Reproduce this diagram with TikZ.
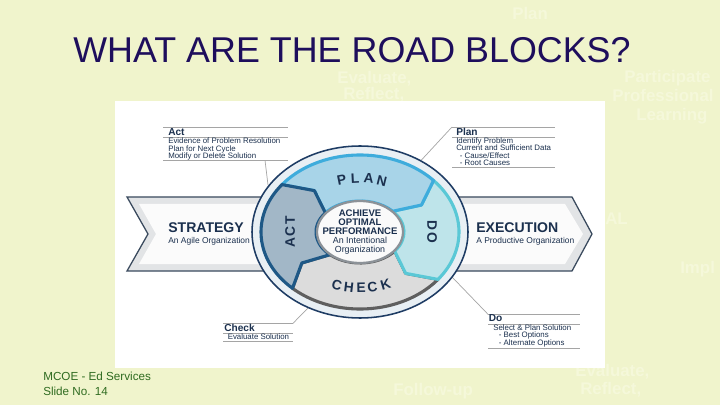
\documentclass[tikz,border=0pt]{standalone}
\usepackage{fontspec}
\setmainfont{Liberation Sans}
\usetikzlibrary{positioning}

\definecolor{slidebg}{RGB}{240,244,204}
\definecolor{ghost}{RGB}{245,248,218}
\definecolor{titleblue}{RGB}{30,14,92}
\definecolor{footgreen}{RGB}{47,107,32}
\definecolor{navytext}{RGB}{27,48,78}
\definecolor{planfill}{RGB}{168,212,232}
\definecolor{planline}{RGB}{62,172,220}
\definecolor{dofill}{RGB}{190,228,234}
\definecolor{doline}{RGB}{90,200,214}
\definecolor{checkfill}{RGB}{220,220,220}
\definecolor{checkline}{RGB}{95,95,95}
\definecolor{actfill}{RGB}{162,183,199}
\definecolor{actline}{RGB}{30,88,134}
\definecolor{rimfill}{RGB}{232,239,244}
\definecolor{rimline}{RGB}{30,60,100}
\definecolor{bandfill}{RGB}{226,228,230}
\definecolor{bandline}{RGB}{58,74,94}
\definecolor{rulegrey}{RGB}{165,165,165}
\definecolor{goalline}{RGB}{140,146,152}

\tikzset{
  ghosttext/.style={font=\bfseries\fontsize{12}{14}\selectfont, text=ghost, anchor=base west, inner sep=0pt},
  notehead/.style={font=\bfseries\fontsize{7.2}{8}\selectfont, text=navytext, inner sep=0pt, anchor=base west},
  notebody/.style={font=\fontsize{5.6}{5.3}\selectfont, text=navytext, inner sep=0pt, align=left, anchor=north west},
  noterule/.style={draw=rulegrey, line width=0.5pt},
  bandtitle/.style={font=\bfseries\fontsize{10}{12}\selectfont, text=navytext, inner sep=0pt, anchor=base west},
  bandsub/.style={font=\fontsize{6}{7}\selectfont, text=navytext, inner sep=0pt, anchor=base west},
  seglabel/.style={font=\bfseries\fontsize{9.8}{11}\selectfont, text=navytext, inner sep=0pt},
  segment/.style={line width=2.2pt, line join=round},
}

\begin{document}
\begin{tikzpicture}[x=0.025cm, y=-0.025cm]
\fill[slidebg] (0,0) rectangle (720,405);
\useasboundingbox (0,0) rectangle (720,405);

\foreach \w/\gx/\gy [count=\i] in {Plan/512/20, Participate/624/83, Professional/612/102, Learning/636/121,
  {Evaluate,}/337/84, {Reflect,}/343/100, AL/605/225, Impl/680/273, {Evaluate,}/575/376, {Reflect,}/580/394, Follow-up/393/395}
{
  \node[ghosttext] (ghost\i) at (\gx,\gy) {\w};
}

\fill[white] (115,101) rectangle (605,368);

\node[font=\fontsize{25.5}{28}\selectfont, text=titleblue, anchor=base, inner sep=0pt] (title) at (352,63) {WHAT ARE THE ROAD BLOCKS?};
\node[font=\fontsize{8.3}{10}\selectfont, text=footgreen, anchor=base west, inner sep=0pt] (footer) at (43,380) {MCOE - Ed Services};
\node[font=\fontsize{8.3}{10}\selectfont, text=footgreen, anchor=base west, inner sep=0pt] (slideno) at (43,395) {Slide No. 14};

% arrow band behind the cycle
\draw[bandline, fill=bandfill, line width=0.9pt] (127,197) -- (572,197) -- (592,234) -- (572,271) -- (127,271) -- (148,234) -- cycle;
\fill[white!97!gray] (139,204) -- (565,204) -- (583,234) -- (565,264) -- (139,264) -- (156,234) -- cycle;
\node[bandtitle] (strategy) at (168,233) {STRATEGY};
\node[bandsub] (agile) at (168,243) {An Agile Organization};
\node[bandtitle] (execution) at (476,233) {EXECUTION};
\node[bandsub] (productive) at (476,243) {A Productive Organization};

% callouts
\draw[noterule] (163,127) -- (288,127) (163,137.3) -- (288,137.3) (163,160.3) -- (288,160.3);
\node[notehead] (acthead) at (168,136) {Act};
\node[notebody] (actbody) at (168,138) {Evidence of Problem Resolution\\Plan for Next Cycle\\Modify or Delete Solution};

\draw[noterule] (452,127) -- (555,127) (452,137) -- (555,137) (452,167.7) -- (555,167.7);
\node[notehead] (planhead) at (456,136) {Plan};
\node[notebody] (planbody) at (456,137.4) {Identify Problem\\Current and Sufficient Data\\\hspace*{2.5pt}- Cause/Effect\\\hspace*{2.5pt}- Root Causes};

\draw[noterule] (223,323.3) -- (293,323.3) (223,333.3) -- (293,333.3) (223,341.7) -- (293,341.7);
\node[notehead] (checkhead) at (224,331.7) {Check};
\node[notebody] (checkbody) at (227.5,333.6) {Evaluate Solution};

\draw[noterule] (488,314.3) -- (580,314.3) (488,324) -- (580,324) (488,348.3) -- (580,348.3);
\node[notehead] (dohead) at (488.5,321.7) {Do};
\node[notebody] (dobody) at (493,324.2) {Select \& Plan Solution\\\hspace*{4pt}- Best Options\\\hspace*{4pt}- Alternate Options};

\coordinate (actfoot) at (265,160.3);
\coordinate (actpin) at (268,185);
\coordinate (planfoot) at (452,127);
\coordinate (planpin) at (421,160.5);
\coordinate (checkfoot) at (293,323.3);
\coordinate (checkpin) at (308,308);
\coordinate (dofoot) at (488,314.3);
\coordinate (dopin) at (452,277);
\draw[noterule] (actfoot) -- (actpin);
\draw[noterule] (planfoot) -- (planpin);
\draw[noterule] (checkfoot) -- (checkpin);
\draw[noterule] (dofoot) -- (dopin);

% PDCA ring
\begin{scope}[shift={(360,232)}, x=0.025cm, y=0.025cm]
  \fill[rimfill] (0,0) ellipse[x radius=108, y radius=86];
  \foreach \s/\e/\f/\b in {-38/-133/checkfill/checkline, 42/-38/dofill/doline, 142/42/planfill/planline, 227/142/actfill/actline}
  {
    \draw[segment, fill=\f, draw=\b] (\s:99 and 77) arc[start angle=\s, end angle=\e, x radius=99, y radius=77]
      -- (\e-12:71 and 54) -- (\e:44 and 31)
      arc[start angle=\e, end angle=\s, x radius=44, y radius=31]
      -- (\s-12:71 and 54) -- cycle;
  }
  \draw[rimline, line width=1.1pt] (0,0) ellipse[x radius=108, y radius=86];
  \draw[goalline, fill=white!96!gray, line width=1.6pt] (0,0) ellipse[x radius=43, y radius=31];
  \foreach \ch/\t [count=\i] in {P/105,L/94,A/83,N/72}
    \node[seglabel, rotate={atan2(-54*cos(\t),71*sin(\t))}] (planl\i) at (\t:71 and 54) {\ch};
  \foreach \ch/\t [count=\i] in {C/251,H/261,E/271,C/280,K/291}
    \node[seglabel, rotate={atan2(54*cos(\t),-71*sin(\t))}] (checkl\i) at (\t:71 and 56) {\ch};
  \node[seglabel, rotate=90] (actlabel) at (180:70 and 54) {A\kern1pt C\kern1pt T};
  \node[seglabel, rotate=-90] (dolabel) at (0:72 and 54) {D\kern1pt O};
  \node[text=navytext, align=center, inner sep=0pt, font=\fontsize{6.3}{6.4}\selectfont] (goal) at (0,0)
    {\textbf{\fontsize{6.8}{6.4}\selectfont ACHIEVE}\\\textbf{\fontsize{6.8}{6.4}\selectfont OPTIMAL}\\\textbf{\fontsize{6.8}{6.4}\selectfont PERFORMANCE}\\An Intentional\\Organization};
\end{scope}
\end{tikzpicture}
\end{document}
